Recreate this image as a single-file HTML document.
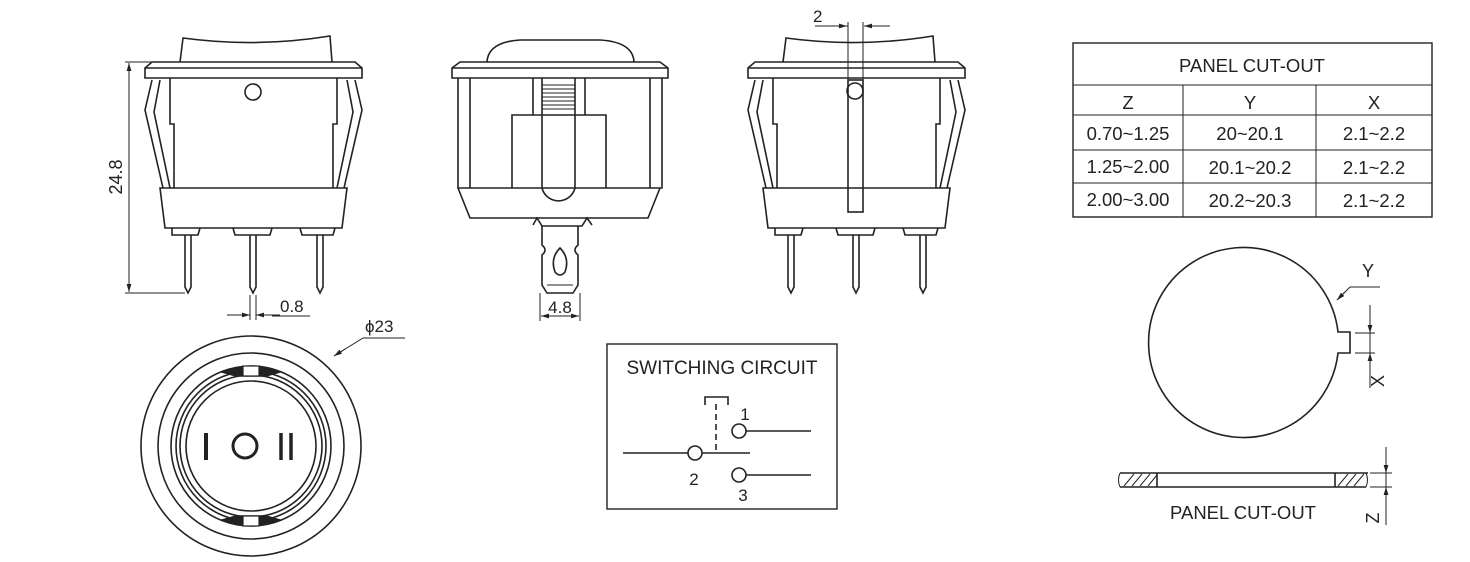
<!DOCTYPE html>
<html><head><meta charset="utf-8"><style>
html,body{margin:0;padding:0;background:#fff;}
svg{display:block;}
text{font-family:"Liberation Sans",Arial,sans-serif;fill:#222;}
</style></head><body>
<svg width="1470" height="562" viewBox="0 0 1470 562" xmlns="http://www.w3.org/2000/svg">
<defs>
<marker id="ar" viewBox="0 0 10 10" refX="10" refY="5" markerWidth="8" markerHeight="8" orient="auto-start-reverse" markerUnits="userSpaceOnUse"><path d="M0,2 L10,5 L0,8 z" fill="#222"/></marker>
<g id="side">
  <path d="M180,62 L183,38 Q256,48 330,36 L332,62" fill="none"/>
  <path d="M152,62 L355,62 L362,68 L362,78 L145,78 L145,68 Z" fill="none"/>
  <line x1="145" y1="68" x2="362" y2="68"/>
  <path d="M170,78 L170,124 L174,124 L174,188" fill="none"/>
  <path d="M337,78 L337,124 L333,124 L333,188" fill="none"/>
  <path d="M160,188 L347,188 L342,228 L165,228 Z" fill="none"/>
  <path d="M152,80 L145,110 L163,188 M160,80 L154,112 L170,188" fill="none"/>
  <path d="M355,80 L362,110 L344,188 M347,80 L353,112 L337,188" fill="none"/>
  <path d="M172,228 L172,235 L198,235 L200,228 M233,228 L235,235 L270,235 L272,228 M300,228 L302,235 L333,235 L335,228" fill="none"/>
  <path d="M185,235 L185,287 L188,293 L191,287 L191,235" fill="none"/>
  <path d="M250,235 L250,287 L253,293 L256,287 L256,235" fill="none"/>
  <path d="M317,235 L317,287 L320,293 L323,287 L323,235" fill="none"/>
</g>
</defs>
<g stroke="#222" stroke-width="1.6" fill="none">
<use href="#side"/>
<circle cx="253" cy="92" r="8"/>
<g stroke-width="1">
<line x1="125" y1="62" x2="152" y2="62"/><line x1="125" y1="293" x2="185" y2="293"/>
<line x1="129" y1="63" x2="129" y2="292" marker-start="url(#ar)" marker-end="url(#ar)"/>
<line x1="250" y1="295" x2="250" y2="320"/><line x1="256" y1="295" x2="256" y2="320"/>
<line x1="227" y1="315" x2="250" y2="315" marker-end="url(#ar)"/>
<line x1="280" y1="315" x2="256" y2="315" marker-end="url(#ar)"/>
<line x1="272" y1="316" x2="310" y2="316"/>
</g>
<path d="M487,62 Q488,42 520,40 L600,40 Q633,42 634,62" />
<path d="M460,62 L660,62 L668,68 L668,78 L452,78 L452,68 Z"/>
<line x1="452" y1="68" x2="668" y2="68"/>
<path d="M458,78 L458,188 L662,188 L662,78"/>
<line x1="470" y1="78" x2="470" y2="188"/>
<line x1="650" y1="78" x2="650" y2="188"/>
<path d="M512,188 L512,115 L606,115 L606,188"/>
<line x1="533" y1="78" x2="533" y2="115"/><line x1="585" y1="78" x2="585" y2="115"/>
<line x1="542" y1="78" x2="542" y2="188"/><line x1="575" y1="78" x2="575" y2="188"/>
<g stroke-width="1">
<line x1="542" y1="85" x2="575" y2="85"/><line x1="542" y1="89" x2="575" y2="89"/><line x1="542" y1="93" x2="575" y2="93"/><line x1="542" y1="97" x2="575" y2="97"/><line x1="542" y1="101" x2="575" y2="101"/><line x1="542" y1="105" x2="575" y2="105"/><line x1="542" y1="109" x2="575" y2="109"/>
</g>
<path d="M542,188 A17,17 0 0 0 575,188"/>
<path d="M458,188 L470,218 L648,218 L660,188"/>
<path d="M533,225 L537,218 L542,226 L582,226 L587,218 L592,225"/>
<path d="M542,226 L542,245 Q548,250 542,255 L542,285 L547,293 L573,293 L578,285 L578,255 Q572,250 578,245 L578,226"/>
<path d="M560,248 Q570,258 565,272 Q560,278 555,272 Q550,258 560,248 Z"/>
<line x1="547" y1="285" x2="573" y2="285" stroke-width="1"/>
<g stroke-width="1">
<line x1="540" y1="293" x2="540" y2="321"/><line x1="580" y1="293" x2="580" y2="321"/>
<line x1="560" y1="316" x2="541" y2="316" marker-end="url(#ar)"/>
<line x1="560" y1="316" x2="579" y2="316" marker-end="url(#ar)"/>
</g>
<use href="#side" x="603"/>
<rect x="848" y="80" width="15" height="132"/>
<circle cx="855" cy="91" r="8"/>
<g stroke-width="1">
<line x1="848" y1="22" x2="848" y2="80"/><line x1="863" y1="22" x2="863" y2="80"/>
<line x1="815" y1="26" x2="848" y2="26"/>
<line x1="830" y1="26" x2="847" y2="26" marker-end="url(#ar)"/>
<line x1="890" y1="26" x2="864" y2="26" marker-end="url(#ar)"/>
</g>
<circle cx="251" cy="446" r="110"/>
<circle cx="251" cy="446" r="93"/>
<circle cx="251" cy="446" r="80"/>
<circle cx="251" cy="446" r="75"/>
<circle cx="251" cy="446" r="71"/>
<circle cx="251" cy="446" r="65"/>
<path d="M222,372 L236,368 L266,368 L280,372 L266,376 L236,376 Z" fill="#222"/>
<rect x="243" y="366" width="16" height="10" fill="#fff" stroke-width="1.2"/>
<path d="M222,520 L236,516 L266,516 L280,520 L266,524 L236,524 Z" fill="#222"/>
<rect x="243" y="516" width="16" height="10" fill="#fff" stroke-width="1.2"/>
<line x1="206" y1="433" x2="206" y2="460" stroke-width="4"/>
<circle cx="245" cy="446" r="12" stroke-width="3"/>
<line x1="281" y1="433" x2="281" y2="460" stroke-width="3.5"/>
<line x1="291" y1="433" x2="291" y2="460" stroke-width="3.5"/>
<g stroke-width="1"><polyline points="405,338 363,338 334,356"/><line x1="345" y1="349" x2="334" y2="356" marker-end="url(#ar)"/></g>
<rect x="607" y="344" width="230" height="165" stroke-width="1.4"/>
<line x1="623" y1="453" x2="688" y2="453"/>
<circle cx="695" cy="453" r="7"/>
<line x1="702" y1="453" x2="750" y2="453"/>
<line x1="716" y1="404" x2="716" y2="453" stroke-dasharray="6,4"/>
<path d="M705,405 L705,397 L728,397 L728,405"/>
<circle cx="739" cy="431" r="7"/><line x1="746" y1="431" x2="811" y2="431"/>
<circle cx="739" cy="475" r="7"/><line x1="746" y1="475" x2="811" y2="475"/>
<rect x="1073" y="43" width="359" height="174" stroke-width="1.4"/>
<g stroke-width="1">
<line x1="1073" y1="85" x2="1432" y2="85"/>
<line x1="1073" y1="115" x2="1432" y2="115"/>
<line x1="1073" y1="150" x2="1432" y2="150"/>
<line x1="1073" y1="183" x2="1432" y2="183"/>
<line x1="1183" y1="85" x2="1183" y2="217"/>
<line x1="1316" y1="85" x2="1316" y2="217"/>
</g>
<path d="M1338,332 A95,95 0 1 0 1338,353 L1350,353 L1350,332 Z"/>
<g stroke-width="1">
<polyline points="1380,287 1350,287 1337,300"/>
<line x1="1345" y1="292" x2="1337" y2="300" marker-end="url(#ar)"/>
<line x1="1355" y1="333" x2="1375" y2="333"/><line x1="1355" y1="353" x2="1375" y2="353"/>
<line x1="1370" y1="305" x2="1370" y2="333" marker-end="url(#ar)"/>
<line x1="1370" y1="388" x2="1370" y2="353" marker-end="url(#ar)"/>
<line x1="1370" y1="333" x2="1370" y2="353"/>
</g>
<line x1="1120" y1="473" x2="1368" y2="473"/>
<line x1="1120" y1="487" x2="1366" y2="487"/>
<line x1="1157" y1="473" x2="1157" y2="487"/>
<line x1="1335" y1="473" x2="1335" y2="487"/>
<g stroke-width="1">
<line x1="1124" y1="486" x2="1134" y2="474"/><line x1="1132" y1="486" x2="1142" y2="474"/><line x1="1140" y1="486" x2="1150" y2="474"/><line x1="1148" y1="486" x2="1157" y2="475"/>
<line x1="1338" y1="486" x2="1348" y2="474"/><line x1="1346" y1="486" x2="1356" y2="474"/><line x1="1354" y1="486" x2="1364" y2="474"/>
<path d="M1120,473 Q1117,480 1120,487"/>
<path d="M1366,473 Q1369,480 1366,487"/>
<line x1="1370" y1="473" x2="1392" y2="473"/><line x1="1370" y1="487" x2="1392" y2="487"/>
<line x1="1386" y1="447" x2="1386" y2="473" marker-end="url(#ar)"/>
<line x1="1386" y1="525" x2="1386" y2="487" marker-end="url(#ar)"/>
<line x1="1386" y1="473" x2="1386" y2="487"/>
</g>
</g>
<text x="122" y="177" font-size="18" text-anchor="middle" transform="rotate(-90 122 177)">24.8</text>
<text x="280" y="312" font-size="17">0.8</text>
<text x="560" y="313" font-size="17" text-anchor="middle">4.8</text>
<text x="813" y="22" font-size="17">2</text>
<text x="365" y="332" font-size="17">ϕ23</text>
<text x="722" y="374" font-size="19" text-anchor="middle">SWITCHING CIRCUIT</text>
<text x="745" y="420" font-size="17" text-anchor="middle">1</text>
<text x="694" y="485" font-size="17" text-anchor="middle">2</text>
<text x="743" y="501" font-size="17" text-anchor="middle">3</text>
<g font-size="18.5" text-anchor="middle">
<text x="1252" y="72">PANEL CUT-OUT</text>
<text x="1128" y="109">Z</text><text x="1250" y="109">Y</text><text x="1374" y="109">X</text>
<text x="1128" y="140">0.70~1.25</text><text x="1250" y="140">20~20.1</text><text x="1374" y="140">2.1~2.2</text>
<text x="1128" y="173">1.25~2.00</text><text x="1250" y="174">20.1~20.2</text><text x="1374" y="174">2.1~2.2</text>
<text x="1128" y="206">2.00~3.00</text><text x="1250" y="207">20.2~20.3</text><text x="1374" y="207">2.1~2.2</text>
<text x="1243" y="519">PANEL CUT-OUT</text>
</g>
<text x="1368" y="277" font-size="18" text-anchor="middle">Y</text>
<text x="1384" y="381" font-size="18" text-anchor="middle" transform="rotate(-90 1384 381)">X</text>
<text x="1379" y="518" font-size="18" text-anchor="middle" transform="rotate(-90 1379 518)">Z</text>
</svg>
</body></html>
